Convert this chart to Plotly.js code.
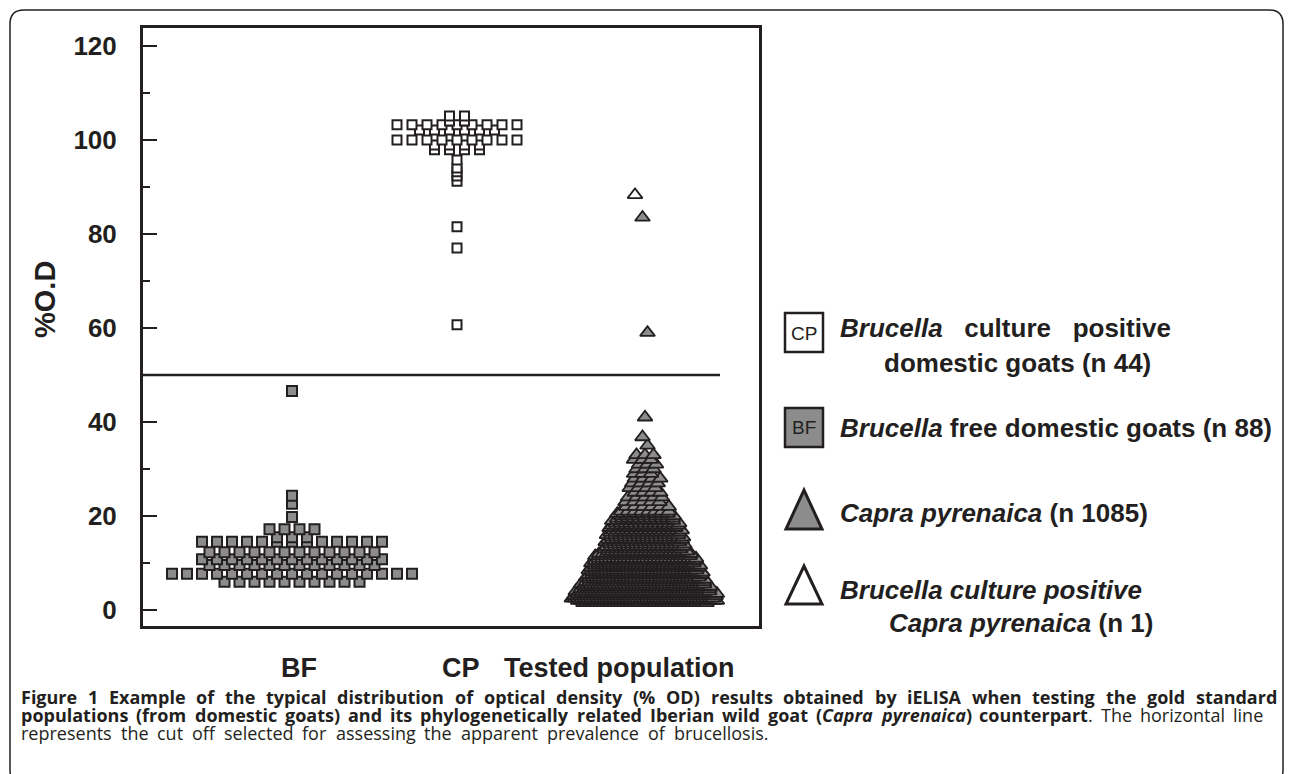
<!DOCTYPE html>
<html><head><meta charset="utf-8">
<script src="https://cdn.plot.ly/plotly-3.0.1.min.js"></script>
<style>html,body{margin:0;padding:0;background:#fff;}#chart{width:1293px;height:774px;}</style>
</head><body><div id="chart"></div>
<script>
// ---- data ----
const bfValues  = [6.0, 7.7, 9.6, 10.8, 12.3, 14.5, 15.5, 17.2, 19.8, 22.6, 24.3, 46.6];
const bfCounts  = [10, 17, 12, 13, 12, 13, 3, 4, 1, 1, 1, 1];
const cpValues  = [60.7, 77.0, 81.5, 91.2, 92.3, 93.2, 94.0, 95.7, 97.9, 98.9, 100.0, 102.1, 103.2, 104.0, 105.1];
const cpCounts  = [1, 1, 1, 1, 1, 1, 1, 1, 4, 4, 9, 6, 9, 2, 2];
const cpyValues = [1.5, 2.0, 2.5, 3.0, 3.5, 4.0, 4.5, 5.0, 5.5, 6.0, 6.5, 7.0, 7.5, 8.0, 8.5, 9.0, 9.5, 10.0,
                   10.5, 11.0, 11.5, 12.0, 12.5, 13.0, 13.5, 14.0, 14.5, 15.0, 15.5, 16.0, 16.5, 17.0, 17.5,
                   18.0, 18.5, 19.0, 19.5, 20.0, 20.5, 21.0, 22, 23, 24, 25, 26, 27, 28, 29, 30, 31, 32, 33,
                   35.0, 36.8, 41.0, 59.0, 83.5];
const cpyCounts = [37, 43, 44, 44, 43, 41, 39, 38, 37, 35, 34, 33, 33, 32, 31, 31, 30, 29,
                   28, 27, 26, 25, 20, 19, 19, 18, 18, 18, 17, 17, 16, 16, 15,
                   15, 14, 13, 11, 10, 9, 8, 6, 5, 5, 4, 4, 4, 4, 3, 3, 3, 3, 3,
                   1, 1, 1, 1, 1];
const cpyPositiveValues = [88.3];
const cpyPositiveCounts = [1];
const cutoff = 50;
const groupLabels = ['BF', 'CP', 'Tested population'];
const yTickValues = [0, 20, 40, 60, 80, 100, 120];
const yTickLabels = ['0', '20', '40', '60', '80', '100', '120'];
const yMinorValues = [10, 30, 50, 70, 90, 110];

// caption text (b = bold, i = italic)
const captionLine1 = [[{t:'Figure', b:1}], [{t:'1', b:1}], [{t:'Example', b:1}], [{t:'of', b:1}], [{t:'the', b:1}], [{t:'typical', b:1}],
  [{t:'distribution', b:1}], [{t:'of', b:1}], [{t:'optical', b:1}], [{t:'density', b:1}], [{t:'(%', b:1}], [{t:'OD)', b:1}],
  [{t:'results', b:1}], [{t:'obtained', b:1}], [{t:'by', b:1}], [{t:'iELISA', b:1}], [{t:'when', b:1}], [{t:'testing', b:1}],
  [{t:'the', b:1}], [{t:'gold', b:1}], [{t:'standard', b:1}]];
const captionLine2 = [[{t:'populations', b:1}], [{t:'(from', b:1}], [{t:'domestic', b:1}], [{t:'goats)', b:1}], [{t:'and', b:1}],
  [{t:'its', b:1}], [{t:'phylogenetically', b:1}], [{t:'related', b:1}], [{t:'Iberian', b:1}], [{t:'wild', b:1}], [{t:'goat', b:1}],
  [{t:'(', b:1}, {t:'Capra', b:1, i:1}], [{t:'pyrenaica', b:1, i:1}, {t:')', b:1}], [{t:'counterpart', b:1}, {t:'.'}],
  [{t:'The'}], [{t:'horizontal'}], [{t:'line'}]];
const captionLine3 = [[{t:'represents'}], [{t:'the'}], [{t:'cut'}], [{t:'off'}], [{t:'selected'}], [{t:'for'}], [{t:'assessing'}],
  [{t:'the'}], [{t:'apparent'}], [{t:'prevalence'}], [{t:'of'}], [{t:'brucellosis.'}]];

// ---- layout helpers ----
const W = 1293, H = 774;
const px = x => x / W;
const py = y => 1 - y / H;
const ink = '#231f20', grey = '#8c8c8c';
const FONT = 'Liberation Sans, Arial, Helvetica, sans-serif';
const CAPFAM = 'Open Sans';
const CAPSIZE = 18;

function swarm(values, counts, center, spanFn, shifts) {
  const xs = [], ys = [];
  values.forEach((v, i) => {
    const n = counts[i];
    const span = spanFn(n);
    const st = n > 1 ? span / (n - 1) : 0;
    const sh = shifts ? shifts[i % shifts.length] : 0;
    for (let k = 0; k < n; k++) { xs.push(center - span / 2 + k * st + sh); ys.push(v); }
  });
  return { xs, ys };
}
const sqSpan = n => 15 * (n - 1);
const triSpan = n => n <= 6 ? 8.5 * (n - 1) : 42.5 + (n - 6) * 2.6;

const bf = swarm(bfValues, bfCounts, 292, sqSpan);
const cp = swarm(cpValues, cpCounts, 457, sqSpan);
const cpy = swarm(cpyValues, cpyCounts, 645, triSpan, [0, 2.5, -2.5]);
const cpyPos = swarm(cpyPositiveValues, cpyPositiveCounts, 635, triSpan);

const traces = [
  { x: bf.xs, y: bf.ys, type: 'scatter', mode: 'markers', hoverinfo: 'skip',
    marker: { symbol: 'square', size: 10, color: grey, line: { color: ink, width: 2 } } },
  { x: cp.xs, y: cp.ys, type: 'scatter', mode: 'markers', hoverinfo: 'skip',
    marker: { symbol: 'square', size: 9, color: '#ffffff', line: { color: ink, width: 2 } } },
  { x: cpy.xs, y: cpy.ys, type: 'scatter', mode: 'markers', hoverinfo: 'skip',
    marker: { symbol: 'triangle-up', size: 13, color: grey, line: { color: ink, width: 1.8 } } },
  { x: cpyPos.xs, y: cpyPos.ys, type: 'scatter', mode: 'markers', hoverinfo: 'skip',
    marker: { symbol: 'triangle-up', size: 13, color: '#ffffff', line: { color: ink, width: 1.8 } } }
];

function ann(x, y, text, size, opts) {
  return Object.assign({ x: px(x), y: py(y), xref: 'paper', yref: 'paper', text: text, showarrow: false,
    xanchor: 'left', yanchor: 'middle', borderpad: 0, borderwidth: 0,
    font: { family: FONT, size: size, color: ink } }, opts || {});
}
const nb = '\u00A0';
const capFont = { family: CAPFAM + ', sans-serif', size: CAPSIZE, color: ink };
const annotations = [
  ann(45, 300, '<b>%O.D</b>', 29, { xanchor: 'center', textangle: -90 }),
  ann(299, 668, '<b>' + groupLabels[0] + '</b>', 27, { xanchor: 'center' }),
  ann(461, 668, '<b>' + groupLabels[1] + '</b>', 27, { xanchor: 'center' }),
  ann(619, 668, '<b>' + groupLabels[2] + '</b>', 27, { xanchor: 'center' }),
  ann(804, 333, 'CP', 19, { xanchor: 'center' }),
  ann(804, 428, 'BF', 19, { xanchor: 'center' }),
  ann(840, 328, '<b><i>Brucella</i>' + nb + nb + ' culture' + nb + nb + ' positive</b>', 26),
  ann(884, 363, '<b>domestic goats (n 44)</b>', 26),
  ann(840, 428, '<b><i>Brucella</i> free domestic goats (n 88)</b>', 26),
  ann(840, 513, '<b><i>Capra pyrenaica</i> (n 1085)</b>', 26),
  ann(840, 590, '<b><i>Brucella culture positive</i></b>', 26),
  ann(889, 623, '<b><i>Capra pyrenaica</i> (n 1)</b>', 26)
];

// caption lines: measure words with a canvas, place each word so each line spans its width
const ctx = document.createElement('canvas').getContext('2d');
function segWidth(s) {
  ctx.font = (s.i ? 'italic ' : '') + (s.b ? 'bold ' : '') + CAPSIZE + 'px "' + CAPFAM + '"';
  return ctx.measureText(s.t).width;
}
function segHtml(s) {
  let h = s.t;
  if (s.i) h = '<i>' + h + '</i>';
  if (s.b) h = '<b>' + h + '</b>';
  return h;
}
function justify(words, x0, x1, y) {
  const widths = words.map(w => w.reduce((a, s) => a + segWidth(s), 0));
  const total = widths.reduce((a, b) => a + b, 0);
  const gap = (x1 - x0 - total) / (words.length - 1);
  let x = x0;
  words.forEach((w, k) => {
    annotations.push(ann(x, y, w.map(segHtml).join(''), CAPSIZE, { font: capFont }));
    x += widths[k] + gap;
  });
}
justify(captionLine1, 21, 1277, 697);
justify(captionLine2, 21, 1263, 715);
justify(captionLine3, 21, 768, 733);

function pathPx(pts, close) {
  return pts.map((p, i) => (i ? 'L' : 'M') + px(p[0]) + ',' + py(p[1])).join(' ') + (close ? ' Z' : '');
}
// rounded outer frame
const r = 14, fl = 10, ft = 10, fr = 1283, fb = 784;
const framePath = 'M' + px(fl) + ',' + py(ft + r) + ' Q' + px(fl) + ',' + py(ft) + ' ' + px(fl + r) + ',' + py(ft) +
  ' L' + px(fr - r) + ',' + py(ft) + ' Q' + px(fr) + ',' + py(ft) + ' ' + px(fr) + ',' + py(ft + r) +
  ' L' + px(fr) + ',' + py(fb - r) + ' Q' + px(fr) + ',' + py(fb) + ' ' + px(fr - r) + ',' + py(fb) +
  ' L' + px(fl + r) + ',' + py(fb) + ' Q' + px(fl) + ',' + py(fb) + ' ' + px(fl) + ',' + py(fb - r) + ' Z';

const shapes = [
  { type: 'path', xref: 'paper', yref: 'paper', path: framePath, line: { color: ink, width: 1.5 }, fillcolor: 'rgba(0,0,0,0)' },
  { type: 'line', xref: 'x', yref: 'y', x0: 143, x1: 720, y0: cutoff, y1: cutoff, line: { color: ink, width: 2.5 } },
  { type: 'rect', xref: 'paper', yref: 'paper', x0: px(785), x1: px(823), y0: py(352), y1: py(313), fillcolor: '#ffffff', line: { color: ink, width: 2.5 } },
  { type: 'rect', xref: 'paper', yref: 'paper', x0: px(785), x1: px(823), y0: py(447), y1: py(408), fillcolor: grey, line: { color: ink, width: 2.5 } },
  { type: 'path', xref: 'paper', yref: 'paper', path: pathPx([[786, 529], [822, 529], [804, 490]], true), fillcolor: grey, line: { color: ink, width: 3 } },
  { type: 'path', xref: 'paper', yref: 'paper', path: pathPx([[786, 604], [822, 604], [804, 566]], true), fillcolor: '#ffffff', line: { color: ink, width: 3 } }
];

const layout = {
  width: W, height: H, margin: { l: 0, r: 0, t: 0, b: 0 },
  paper_bgcolor: '#ffffff', plot_bgcolor: '#ffffff', showlegend: false,
  xaxis: { domain: [px(143), px(759)], range: [143, 759], showline: true, mirror: true, linewidth: 3, linecolor: ink,
           showticklabels: false, ticks: '', showgrid: false, zeroline: false, fixedrange: true },
  yaxis: { domain: [py(626), py(28)], range: [-3.4, 123.8], showline: true, mirror: true, linewidth: 3, linecolor: ink,
           tickmode: 'array', tickvals: yTickValues, ticktext: yTickLabels, ticks: 'inside', ticklen: 14, tickwidth: 2, tickcolor: ink,
           minor: { tickmode: 'array', tickvals: yMinorValues, ticks: 'inside', ticklen: 7, tickwidth: 2, tickcolor: ink, showgrid: false },
           ticklabelstandoff: 18, tickfont: { family: FONT, size: 26, weight: 700, color: ink },
           showgrid: false, zeroline: false, fixedrange: true },
  annotations: annotations,
  shapes: shapes
};

Plotly.newPlot('chart', traces, layout, { staticPlot: true, displayModeBar: false });
</script>
</body></html>
